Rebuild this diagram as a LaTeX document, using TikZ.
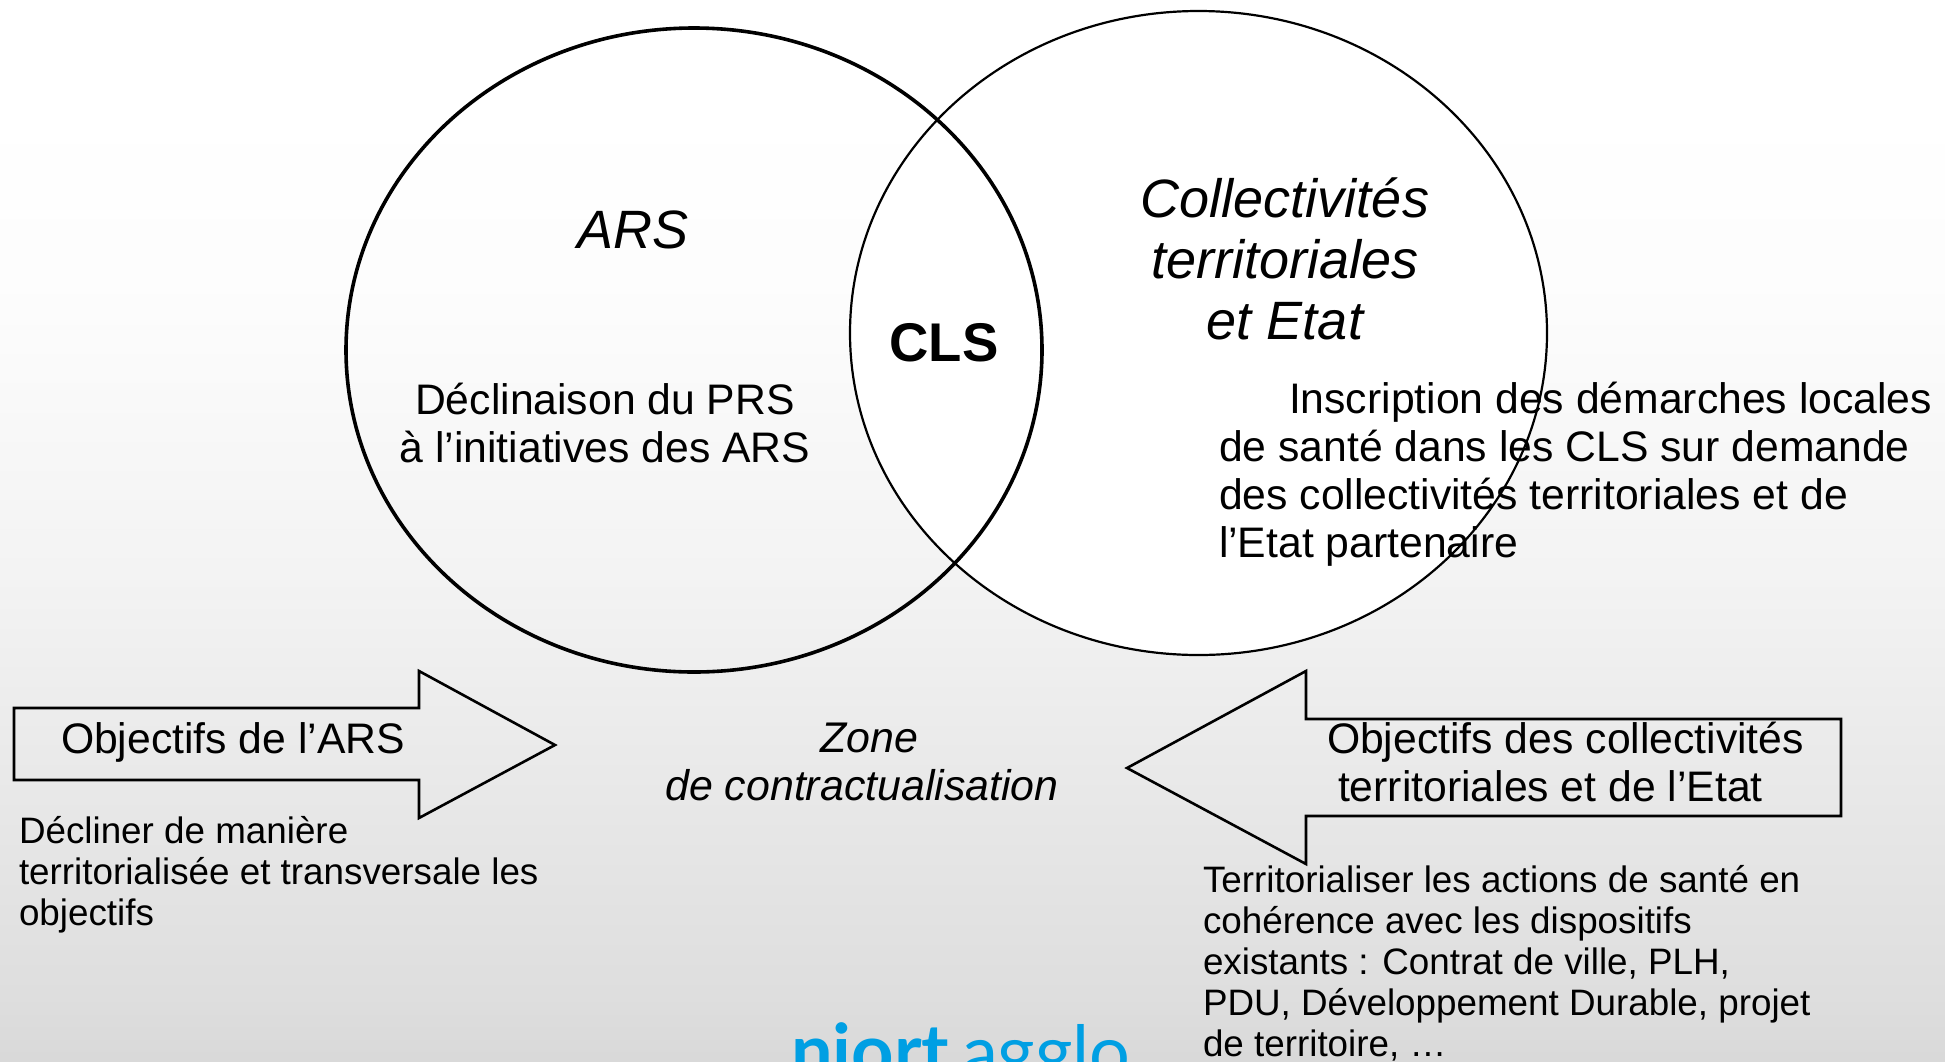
\documentclass[tikz,border=0pt]{standalone}
\usepackage{fontspec}
\setmainfont{Liberation Sans}
\newfontfamily\logolight{Lato}
\newfontfamily\logobold{Lato}[BoldFont={Lato Bold}]
\usetikzlibrary{shapes.geometric}
\definecolor{logoblue}{HTML}{009FE3}
\tikzset{
  txt/.style={inner sep=0pt,outer sep=0pt,text=black,font=\fontsize{42.7}{48}\selectfont},
  small/.style={inner sep=0pt,outer sep=0pt,text=black,font=\fontsize{36.8}{41}\selectfont},
  big/.style={inner sep=0pt,outer sep=0pt,text=black,font=\fontsize{54}{61}\selectfont\itshape},
  arrowshape/.style={draw=black,line width=2.6pt,line join=miter,fill=none}
}
\pgfdeclareverticalshading{bggrad}{100bp}{
  color(0bp)=(black!15);
  color(25bp)=(black!15);
  color(28bp)=(black!13);
  color(40bp)=(black!8);
  color(47bp)=(black!5);
  color(61bp)=(black!1);
  color(70bp)=(white);
  color(100bp)=(white)}
\begin{document}
\begin{tikzpicture}[x=1pt,y=-1pt]
\useasboundingbox (0,0) rectangle (1945,1061);
\clip (0,0) rectangle (1945,1061);
\shade[shading=bggrad] (0,0) rectangle (1945,1061);
% circles
\node[draw=black,line width=2.2pt,fill=white,ellipse,minimum width=697pt,minimum height=644pt,inner sep=0pt,outer sep=0pt] (right) at (1198.5,333) {};
\node[draw=black,line width=3.6pt,ellipse,minimum width=696pt,minimum height=644pt,inner sep=0pt,outer sep=0pt] (left) at (694,350) {};
% arrows
\draw[arrowshape] (14,708) -- (419,708) -- (419,671) -- (555,745) -- (419,818) -- (419,780) -- (14,780) -- cycle;
\draw[arrowshape] (1127,768) -- (1306,671) -- (1306,719) -- (1841,719) -- (1841,816) -- (1306,816) -- (1306,864) -- cycle;
% labels
\node[big,anchor=base] (ars) at (633,248) {ARS};
\node[big,anchor=base] (coll1) at (1285,217) {Collectivités};
\node[big,anchor=base] (coll2) at (1285,278) {territoriales};
\node[big,anchor=base] (coll3) at (1285,339) {et Etat};
\node[inner sep=0pt,text=black,font=\fontsize{54.5}{61}\selectfont\bfseries,anchor=base] (cls) at (944,361) {CLS};
\node[txt,align=center,anchor=base] (decl) at (605,462) {Déclinaison du PRS\\à l’initiatives des ARS};
\node[txt,align=left,anchor=base west] (insc) at (1219,557) {\hspace*{70pt}Inscription des démarches locales\\de santé dans les CLS sur demande\\des collectivités territoriales et de\\l’Etat partenaire};
\node[txt,anchor=base west] (obj1) at (61,753) {Objectifs de l’ARS};
\node[txt,align=center,anchor=base,font=\fontsize{42.9}{48}\selectfont\itshape] (zone) at (862,800) {\hspace*{14pt}Zone\\de contractualisation};
\node[txt,align=left,anchor=base west] (obj2) at (1327,801) {Objectifs des collectivités\\\hspace*{11pt}territoriales et de l’Etat};
\node[small,align=left,anchor=base west] (dec) at (19,925) {Décliner de manière\\territorialisée et transversale les\\objectifs};
\node[small,align=left,anchor=base west] (terr) at (1203,1056) {Territorialiser les actions de santé en\\cohérence avec les dispositifs\\existants : Contrat de ville, PLH,\\PDU, Développement Durable, projet\\de territoire, …};
\node[inner sep=0pt,text=logoblue,anchor=base west,font=\fontsize{74}{80}\logobold\bfseries] (niort) at (791,1077) {niort};
\node[inner sep=0pt,text=logoblue,anchor=base west,font=\fontsize{72}{80}\logolight] (agglo) at (962,1077) {agglo};
\end{tikzpicture}
\end{document}
